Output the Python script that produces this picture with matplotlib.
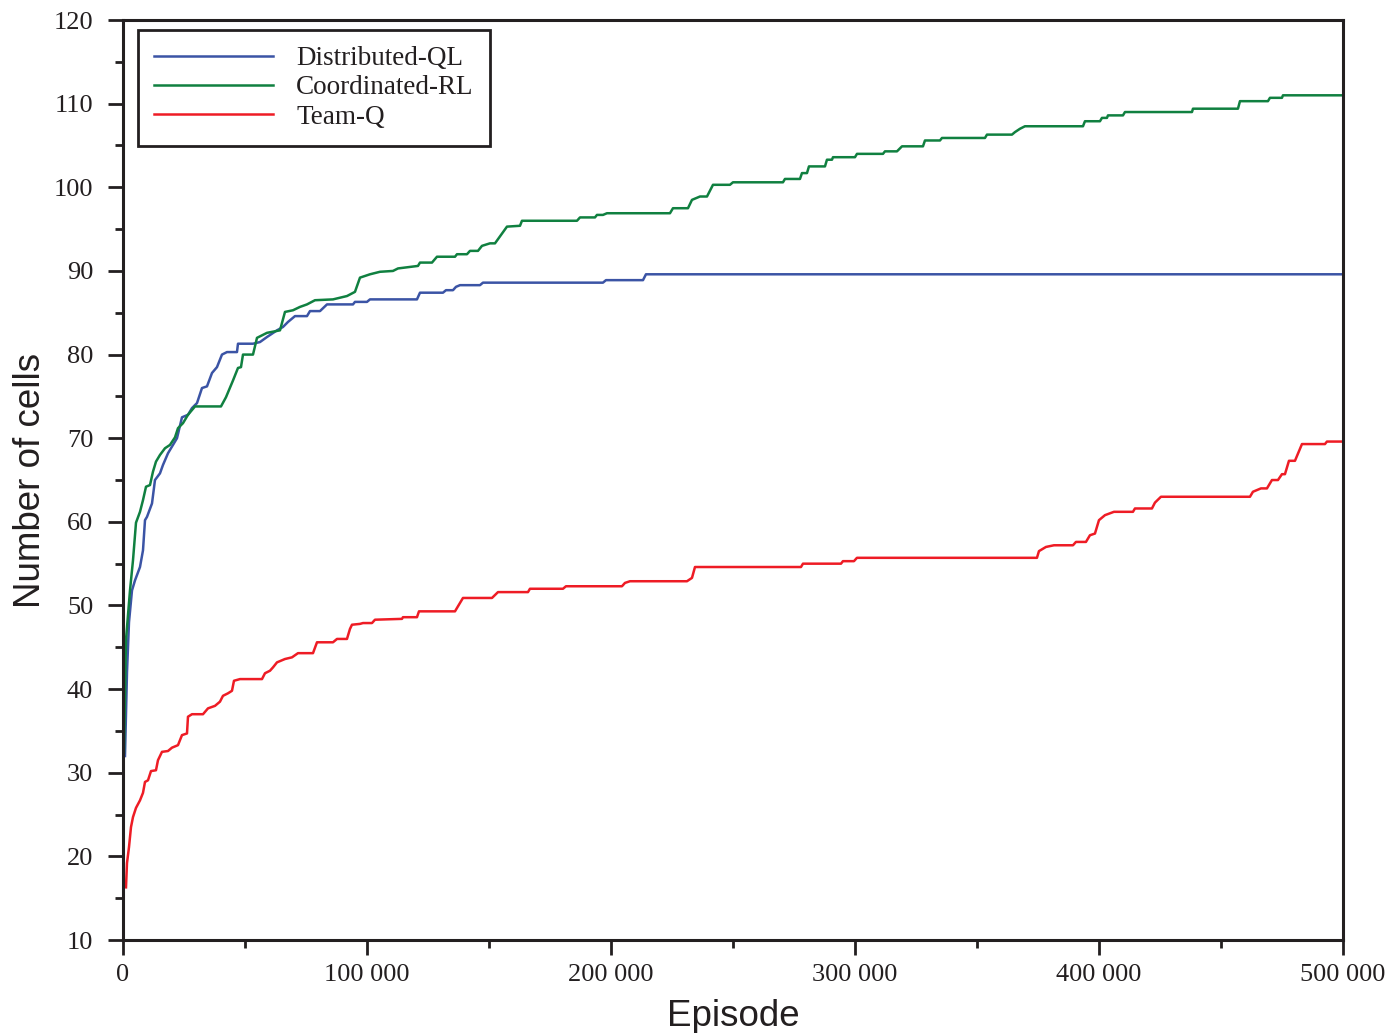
import matplotlib
matplotlib.use("Agg")
import matplotlib.pyplot as plt
from matplotlib.ticker import MultipleLocator, FuncFormatter

# series: (episode, number of cells)
dql_x = [820, 1640, 2460, 3690, 4920, 6970, 8200, 9020, 9840, 11890, 13110, 15160, 16390,
         18440, 20080, 22130, 24180, 26640, 28280, 30330, 32380, 34430, 36480, 38520, 40570,
         42620, 46720, 47130, 53280, 56150, 59020, 63120, 65570, 67620, 70490, 75410, 76640,
         80740, 83610, 94260, 95080, 100000, 101230, 120490, 121720, 131150, 132380, 135250,
         136480, 138120, 146310, 147540, 196720, 197950, 213120, 214340, 500000]
dql_y = [32.0, 42.0, 48.0, 51.8, 53.0, 54.6, 56.6, 60.2, 60.6, 62.2, 65.0, 65.8, 66.8,
         68.2, 69.0, 70.0, 72.5, 72.8, 73.6, 74.2, 76.0, 76.2, 77.8, 78.5, 80.0,
         80.3, 80.3, 81.3, 81.3, 81.5, 82.1, 82.9, 83.3, 83.9, 84.6, 84.6, 85.2,
         85.2, 86.0, 86.0, 86.3, 86.3, 86.6, 86.6, 87.4, 87.4, 87.7, 87.7,
         88.1, 88.3, 88.3, 88.6, 88.6, 88.9, 88.9, 89.6, 89.6]

crl_x = [410, 1230, 2870, 4100, 5330, 6970, 8200, 9430, 11070, 12290, 13520, 15160, 17210,
         19260, 21310, 22540, 24590, 26640, 29510, 40160, 42210, 45080, 47130, 48360, 49180,
         53280, 54920, 59020, 64350, 66390, 69670, 72540, 75410, 78690, 86070, 91800, 95080,
         97130, 101230, 105330, 110660, 112710, 120900, 121720, 126640, 128690, 136070,
         136890, 140990, 142210, 145490, 147130, 150410, 152460, 157380, 162710, 163520,
         186070, 187300, 193440, 194260, 196720, 198360, 224180, 225410, 231560, 233200,
         236480, 239350, 241810, 248770, 250000, 270490, 271310, 277460, 278280, 280330,
         281150, 287710, 288520, 290580, 290990, 300000, 300830, 311480, 312300, 317220,
         319270, 327870, 328690, 334840, 335660, 353280, 354100, 364350, 365570, 367630,
         369670, 393450, 394260, 400410, 401230, 403280, 403690, 409840, 410660, 438120,
         438530, 456970, 457790, 469260, 470080, 475000, 475410, 500000]
crl_y = [32.4, 45.9, 51.8, 55.4, 59.9, 61.2, 62.6, 64.2, 64.4, 66.0, 67.2, 68.0, 68.8,
         69.2, 70.1, 71.2, 71.8, 72.8, 73.8, 73.8, 74.9, 76.9, 78.4, 78.5, 80.0,
         80.0, 82.0, 82.6, 82.9, 85.1, 85.3, 85.7, 86.0, 86.5, 86.6, 87.0, 87.5,
         89.2, 89.6, 89.9, 90.0, 90.3, 90.6, 91.0, 91.0, 91.7, 91.7,
         92.0, 92.0, 92.4, 92.4, 93.0, 93.3, 93.3, 95.3, 95.4, 96.0,
         96.0, 96.4, 96.4, 96.7, 96.7, 96.9, 96.9, 97.5, 97.5, 98.5,
         98.9, 98.9, 100.3, 100.3, 100.6, 100.6, 101.0, 101.0, 101.7, 101.7,
         102.5, 102.5, 103.3, 103.3, 103.6, 103.6, 104.0, 104.0, 104.3, 104.3,
         104.9, 104.9, 105.6, 105.6, 105.9, 105.9, 106.3, 106.3, 106.6, 107.0,
         107.3, 107.3, 107.9, 107.9, 108.3, 108.3, 108.6, 108.6, 109.0, 109.0,
         109.4, 109.4, 110.3, 110.3, 110.7, 110.7, 111.0, 111.0]

tq_x = [1230, 1640, 2460, 3280, 4100, 5330, 6970, 8200, 9020, 10250, 11480, 13520, 14340,
        15980, 18440, 20080, 22540, 24180, 26230, 26640, 28280, 32790, 34840, 37710, 39750,
        40980, 43030, 44670, 45490, 47950, 56970, 58200, 60250, 61480, 63120, 66390, 69260,
        71720, 77870, 79510, 86070, 87710, 91800, 93030, 93850, 97130, 98360, 102050,
        103280, 114340, 114750, 120490, 121310, 136070, 137290, 139340, 151230, 153690,
        165980, 166800, 180330, 181560, 204510, 205740, 207790, 231150, 233200, 234430,
        277870, 278690, 294270, 295080, 299590, 300820, 374590, 375410, 378280, 381560,
        389350, 390570, 394670, 396310, 398360, 400000, 402460, 406150, 413930, 414750,
        421720, 422950, 425410, 461890, 463110, 466390, 468850, 470900, 473360, 475000,
        476230, 477870, 480330, 483200, 492620, 493440, 500000]
tq_y = [16.3, 19.2, 21.1, 23.5, 24.7, 25.8, 26.7, 27.6, 28.9, 29.1, 30.2, 30.3, 31.5,
        32.5, 32.6, 33.0, 33.3, 34.5, 34.7, 36.7, 37.0, 37.0, 37.7, 38.0, 38.5,
        39.2, 39.5, 39.8, 41.0, 41.2, 41.2, 41.9, 42.2, 42.6, 43.2, 43.6, 43.8,
        44.3, 44.3, 45.6, 45.6, 46.0, 46.0, 47.2, 47.7, 47.8, 47.9, 47.9,
        48.3, 48.4, 48.6, 48.6, 49.3, 49.3, 49.9, 50.9, 50.9, 51.6,
        51.6, 52.0, 52.0, 52.3, 52.3, 52.7, 52.9, 52.9, 53.3, 54.6,
        54.6, 55.0, 55.0, 55.3, 55.3, 55.7, 55.7, 56.5, 57.0, 57.2,
        57.2, 57.6, 57.6, 58.4, 58.6, 60.2, 60.8, 61.2, 61.2, 61.6,
        61.6, 62.3, 63.0, 63.0, 63.6, 64.0, 64.0, 65.0, 65.0, 65.7,
        65.7, 67.3, 67.3, 69.3, 69.3, 69.6, 69.6]

labels = ["Distributed-QL", "Coordinated-RL", "Team-Q"]
colors = ["#3b54a5", "#108040", "#ee1c25"]

serif = "Liberation Serif"
sans = "Liberation Sans"
ink = "#231f20"

fig = plt.figure(figsize=(13.96, 10.33), dpi=100)
ax = fig.add_axes([0.0881, 0.0900, 0.8739, 0.8906])

ax.plot(dql_x, dql_y, color=colors[0], lw=1.8, label=labels[0])
ax.plot(crl_x, crl_y, color=colors[1], lw=1.8, label=labels[1])
ax.plot(tq_x, tq_y, color=colors[2], lw=1.8, label=labels[2])

ax.set_xlim(0, 500000)
ax.set_ylim(10, 120)
ax.xaxis.set_major_locator(MultipleLocator(100000))
ax.xaxis.set_minor_locator(MultipleLocator(50000))
ax.yaxis.set_major_locator(MultipleLocator(10))
ax.yaxis.set_minor_locator(MultipleLocator(5))
ax.xaxis.set_major_formatter(FuncFormatter(lambda v, p: "{:,}".format(int(v)).replace(",", " ")))

for s in ax.spines.values():
    s.set_linewidth(2.2)
    s.set_color(ink)
ax.tick_params(which="major", direction="out", length=10.5, width=2, colors=ink,
               top=False, right=False)
ax.tick_params(which="minor", direction="out", length=5.5, width=2, colors=ink,
               top=False, right=False)
ax.tick_params(axis="x", which="major", pad=7)
ax.tick_params(axis="y", which="major", pad=11)
for lab in ax.get_xticklabels() + ax.get_yticklabels():
    lab.set_fontfamily(serif)
    lab.set_fontsize(19)
    lab.set_color(ink)

ax.set_xlabel("Episode", fontfamily=sans, fontsize=26.5, labelpad=9, color=ink)
ax.set_ylabel("Number of cells", fontfamily=sans, fontsize=26.5, labelpad=4, color=ink)

leg = ax.legend(loc="upper left", bbox_to_anchor=(0.012, 0.989), fancybox=False,
                framealpha=1, edgecolor=ink, handlelength=4.4, handletextpad=0.85,
                labelspacing=0.15, borderpad=0.6, borderaxespad=0,
                prop={"family": serif, "size": 19.5})
leg.get_frame().set_linewidth(2)
for t in leg.get_texts():
    t.set_color(ink)

fig.savefig("out.png", dpi=100)
